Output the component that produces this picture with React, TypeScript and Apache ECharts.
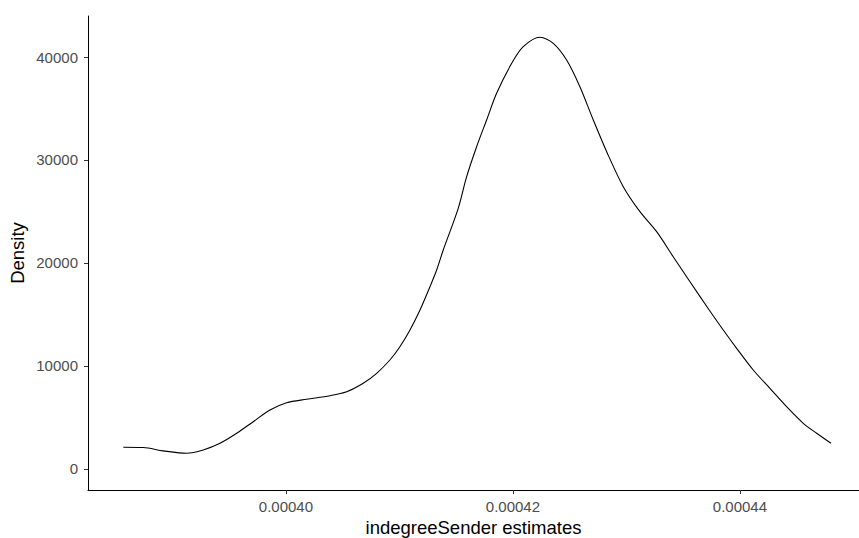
import React, { useEffect, useRef } from "react";
import * as echarts from "echarts";

const xValues = [
  0.00038567, 0.00038743, 0.00038919, 0.00039125, 0.00039271, 0.00039419, 0.00039566,
  0.00039712, 0.00039859, 0.00040006, 0.00040182, 0.00040388, 0.00040535, 0.00040681,
  0.00040799, 0.00040916, 0.00041004, 0.00041093, 0.00041181, 0.00041269, 0.00041328,
  0.00041386, 0.00041518, 0.00041592, 0.0004168, 0.00041768, 0.00041856, 0.00041989,
  0.00042091, 0.00042238, 0.00042355, 0.00042473, 0.0004259, 0.00042708, 0.00042826,
  0.00042972, 0.00043119, 0.00043266, 0.00043412, 0.0004356, 0.00043714, 0.00043853,
  0.00043971, 0.00044117, 0.00044264, 0.00044411, 0.00044558, 0.00044676, 0.00044802,
];
const densityValues = [
  2107, 2080, 1760, 1524, 1845, 2495, 3466, 4592, 5728, 6437, 6767, 7117, 7505, 8320,
  9291, 10583, 11874, 13495, 15437, 17699, 19320, 21262, 25311, 28379, 31291, 33883,
  36476, 39388, 41000, 41913, 41330, 39709, 37117, 33883, 30806, 27408, 24981, 23039,
  20612, 18184, 15680, 13495, 11718, 9612, 7835, 6049, 4437, 3466, 2495,
];
const xTicks = [0.0004, 0.00042, 0.00044];
const yTicks = [0, 10000, 20000, 30000, 40000];
const xTitle = "indegreeSender estimates";
const yTitle = "Density";

export default function App() {
  const ref = useRef<HTMLDivElement>(null);
  useEffect(() => {
    document.body.style.margin = "0";
    const chart = echarts.init(ref.current!, null, { renderer: "svg" });
    const font = "'Liberation Sans', Arial, sans-serif";
    chart.setOption({
      animation: false,
      backgroundColor: "#ffffff",
      grid: { left: 88, right: 0, top: 16, bottom: 48, containLabel: false, outerBoundsMode: "none" },
      xAxis: {
        type: "value",
        min: 0.00038256,
        max: 0.00045049,
        name: xTitle,
        nameLocation: "middle",
        nameGap: 28,
        nameMoveOverlap: false,
        nameTextStyle: { color: "#000000", fontSize: 18.5, fontFamily: font },
        axisLine: { show: true, onZero: false, lineStyle: { color: "#000000", width: 1 } },
        axisTick: { show: true, length: 4, lineStyle: { color: "#333333" }, customValues: xTicks },
        axisLabel: {
          color: "#4d4d4d",
          fontSize: 15,
          fontFamily: font,
          margin: 9,
          customValues: xTicks,
          formatter: (v: number) => v.toFixed(5),
        },
        splitLine: { show: false },
      },
      yAxis: {
        type: "value",
        min: -2040,
        max: 43981,
        name: yTitle,
        nameLocation: "middle",
        nameGap: 61,
        nameMoveOverlap: false,
        nameTextStyle: { color: "#000000", fontSize: 18.5, fontFamily: font },
        axisLine: { show: true, onZero: false, lineStyle: { color: "#000000", width: 1 } },
        axisTick: { show: true, length: 4, lineStyle: { color: "#333333" }, customValues: yTicks },
        axisLabel: {
          color: "#4d4d4d",
          fontSize: 15,
          fontFamily: font,
          margin: 10,
          customValues: yTicks,
          formatter: (v: number) => String(v),
        },
        splitLine: { show: false },
      },
      series: [
        {
          type: "line",
          data: xValues.map((x, i) => [x, densityValues[i]]),
          smooth: 0.3,
          showSymbol: false,
          lineStyle: { color: "#000000", width: 1.1 },
        },
      ],
    });
    return () => chart.dispose();
  }, []);
  return <div ref={ref} style={{ width: 859, height: 538 }} />;
}
